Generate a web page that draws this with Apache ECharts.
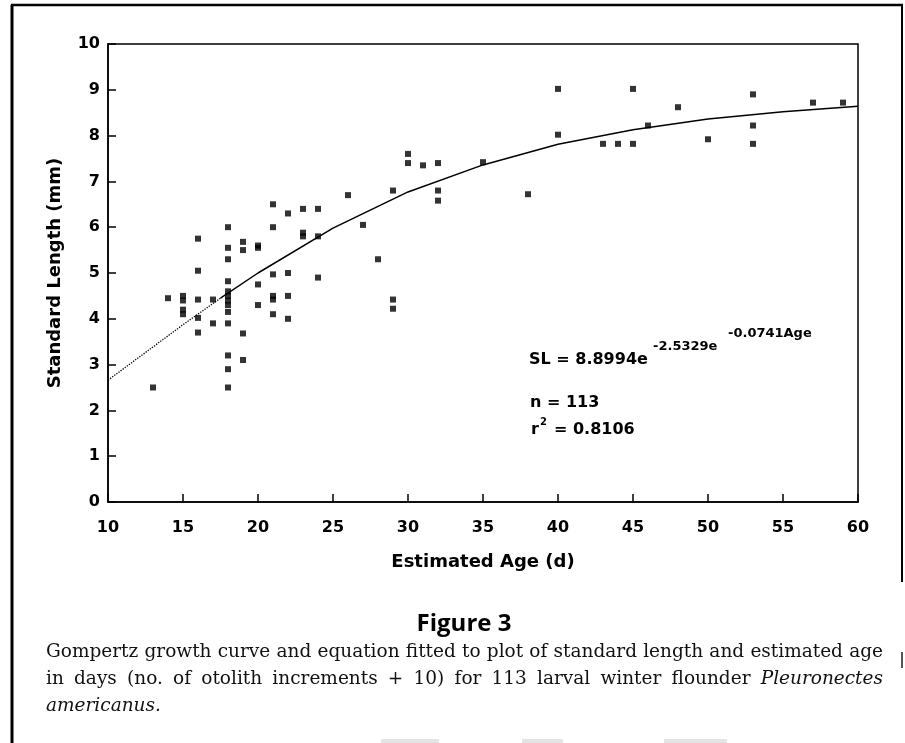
<!DOCTYPE html>
<html><head><meta charset="utf-8">
<script src="https://cdn.jsdelivr.net/npm/echarts@6/dist/echarts.min.js"></script>
<style>html,body{margin:0;padding:0;background:#fff}#c{width:905px;height:743px}</style>
</head><body><div id="c"></div>
<script>
// ---- data ----
const ages = [13,14,15,15,15,15,16,16,16,16,16,17,17,
  18,18,18,18,18,18,18,18,18,18,18,18,18,
  19,19,19,19,20,20,20,20,21,21,21,21,21,21,22,22,22,22,
  23,23,23,24,24,24,26,27,28,29,29,29,30,30,31,32,32,32,
  35,38,40,40,43,44,45,45,46,48,50,53,53,53,57,59];
const lengths = [2.5,4.45,4.5,4.4,4.2,4.1,5.75,5.05,4.42,4.02,3.7,4.42,3.9,
  6.0,5.55,5.3,4.82,4.6,4.5,4.4,4.3,4.15,3.9,3.2,2.9,2.5,
  5.68,5.5,3.68,3.1,5.6,5.55,4.75,4.3,6.5,6.0,4.97,4.5,4.42,4.1,6.3,5.0,4.5,4.0,
  6.4,5.88,5.8,6.4,5.8,4.9,6.7,6.05,5.3,6.8,4.42,4.22,7.6,7.4,7.35,7.4,6.8,6.58,
  7.42,6.72,9.02,8.02,7.82,7.82,9.02,7.82,8.22,8.62,7.92,8.9,8.22,7.82,8.72,8.72];
// fitted curve
const curveAgesDotted = [10, 15, 17.5];
const curveLenDotted  = [2.66, 3.87, 4.45];
const curveAges = [17.5, 20, 25, 30, 35, 40, 45, 50, 55, 60];
const curveLen  = [4.45, 5.0, 5.98, 6.77, 7.36, 7.81, 8.13, 8.36, 8.52, 8.64];
const xTicks = [10,15,20,25,30,35,40,45,50,55,60];
const yTicks = [0,1,2,3,4,5,6,7,8,9,10];
const xTitle = 'Estimated Age (d)';
const yTitle = 'Standard Length (mm)';
const figTitle = 'Figure 3';
const capLine1 = 'Gompertz growth curve and equation fitted to plot of standard length and estimated age';
const capLine2 = 'in days (no. of otolith increments + 10) for 113 larval winter flounder';
const capLine2It = 'Pleuronectes';
const capLine3It = 'americanus.';

const pts = ages.map((a, i) => [a, lengths[i]]);
const dotted = curveAgesDotted.map((a, i) => [a, curveLenDotted[i]]);
const solid = curveAges.map((a, i) => [a, curveLen[i]]);

const chart = echarts.init(document.getElementById('c'), null, {renderer: 'canvas'});
const axFont = {fontFamily: 'DejaVu Sans', fontWeight: 'bold', fontSize: 16, color: '#000'};
const nameFont = {fontFamily: 'DejaVu Sans', fontWeight: 'bold', fontSize: 18, color: '#000'};

// caption word layout (justified lines)
const capFont = '18.5px "DejaVu Serif"';
const capFontIt = 'italic 18.5px "DejaVu Serif"';
const cv = document.createElement('canvas').getContext('2d');
function measure(t, f) { cv.font = f; return cv.measureText(t).width; }
function justify(words, x0, x1, y) {
  const widths = words.map(w => measure(w.t, w.it ? capFontIt : capFont));
  const total = widths.reduce((s, v) => s + v, 0);
  const gap = Math.max(3, (x1 - x0 - total) / (words.length - 1));
  let x = x0; const out = [];
  words.forEach((w, i) => {
    out.push({type: 'text', x: x, y: y, style: {text: w.t, font: w.it ? capFontIt : capFont, fill: '#111', verticalAlign: 'middle'}});
    x += widths[i] + gap;
  });
  return out;
}
const capX0 = 46, capX1 = 883;
const line1 = justify(capLine1.split(' ').map(t => ({t})), capX0, capX1, 652);
const line2 = justify(capLine2.split(' ').map(t => ({t})).concat([{t: capLine2It, it: true}]), capX0, capX1, 679);

const eqFont = 'bold 16px "DejaVu Sans"';
const supFont = 'bold 13px "DejaVu Sans"';
const T = (x, y, text, font, extra) => Object.assign({type: 'text', x, y, style: Object.assign({text, font, fill: '#000', verticalAlign: 'middle'}, extra || {})});

chart.setOption({
  animation: false,
  backgroundColor: '#fff',
  grid: {left: 108, right: 47, top: 44, bottom: 241, show: true, borderColor: '#000', borderWidth: 1.5, backgroundColor: 'transparent'},
  xAxis: {
    type: 'value', min: xTicks[0], max: xTicks[xTicks.length - 1], interval: 5,
    name: xTitle, nameLocation: 'middle', nameGap: 51, nameTextStyle: nameFont,
    axisLine: {lineStyle: {color: '#000', width: 1.5}},
    axisTick: {inside: true, length: 8, lineStyle: {color: '#000', width: 1.5}},
    axisLabel: Object.assign({margin: 18}, axFont),
    splitLine: {show: false}
  },
  yAxis: {
    type: 'value', min: yTicks[0], max: yTicks[yTicks.length - 1], interval: 1,
    name: yTitle, nameLocation: 'middle', nameGap: 44, nameRotate: 90, nameTextStyle: nameFont,
    axisLine: {lineStyle: {color: '#000', width: 1.5}},
    axisTick: {inside: true, length: 8, lineStyle: {color: '#000', width: 1.5}},
    axisLabel: Object.assign({margin: 8}, axFont),
    splitLine: {show: false}
  },
  series: [
    {type: 'scatter', data: pts, symbol: 'rect', symbolSize: 6, itemStyle: {color: '#000'}, z: 3},
    {type: 'line', data: dotted, showSymbol: false, lineStyle: {color: '#000', width: 1.3, type: 'dotted'}},
    {type: 'line', data: solid, showSymbol: false, lineStyle: {color: '#000', width: 1.5}}
  ],
  graphic: [
    // page frame
    {type: 'line', shape: {x1: 12, y1: 5, x2: 12, y2: 743}, style: {stroke: '#000', lineWidth: 3}},
    {type: 'line', shape: {x1: 11, y1: 5, x2: 903, y2: 5}, style: {stroke: '#000', lineWidth: 2.5}},
    {type: 'line', shape: {x1: 902, y1: 5, x2: 902, y2: 582}, style: {stroke: '#000', lineWidth: 2}},
    {type: 'line', shape: {x1: 902, y1: 652, x2: 902, y2: 668}, style: {stroke: '#555', lineWidth: 2}},
    // scan artefacts at page bottom
    {type: 'rect', shape: {x: 381, y: 739, width: 58, height: 4}, style: {fill: '#e4e4e4'}},
    {type: 'rect', shape: {x: 522, y: 739, width: 41, height: 4}, style: {fill: '#e4e4e4'}},
    {type: 'rect', shape: {x: 664, y: 739, width: 63, height: 4}, style: {fill: '#e4e4e4'}},
    // equation
    T(529, 360, 'SL = 8.8994e', eqFont),
    T(653, 347, '-2.5329e', supFont),
    T(728, 334, '-0.0741Age', supFont),
    T(530, 403, 'n = 113', eqFont),
    T(531, 430, 'r', eqFont),
    T(540, 422, '2', 'bold 10px "DejaVu Sans"'),
    T(554, 430, '= 0.8106', eqFont),
    // caption
    T(464, 624, figTitle, 'bold 24px "Open Sans"', {align: 'center'}),
    ...line1, ...line2,
    {type: 'text', x: capX0, y: 706, style: {text: capLine3It, font: capFontIt, fill: '#111', verticalAlign: 'middle'}}
  ]
});
</script></body></html>
